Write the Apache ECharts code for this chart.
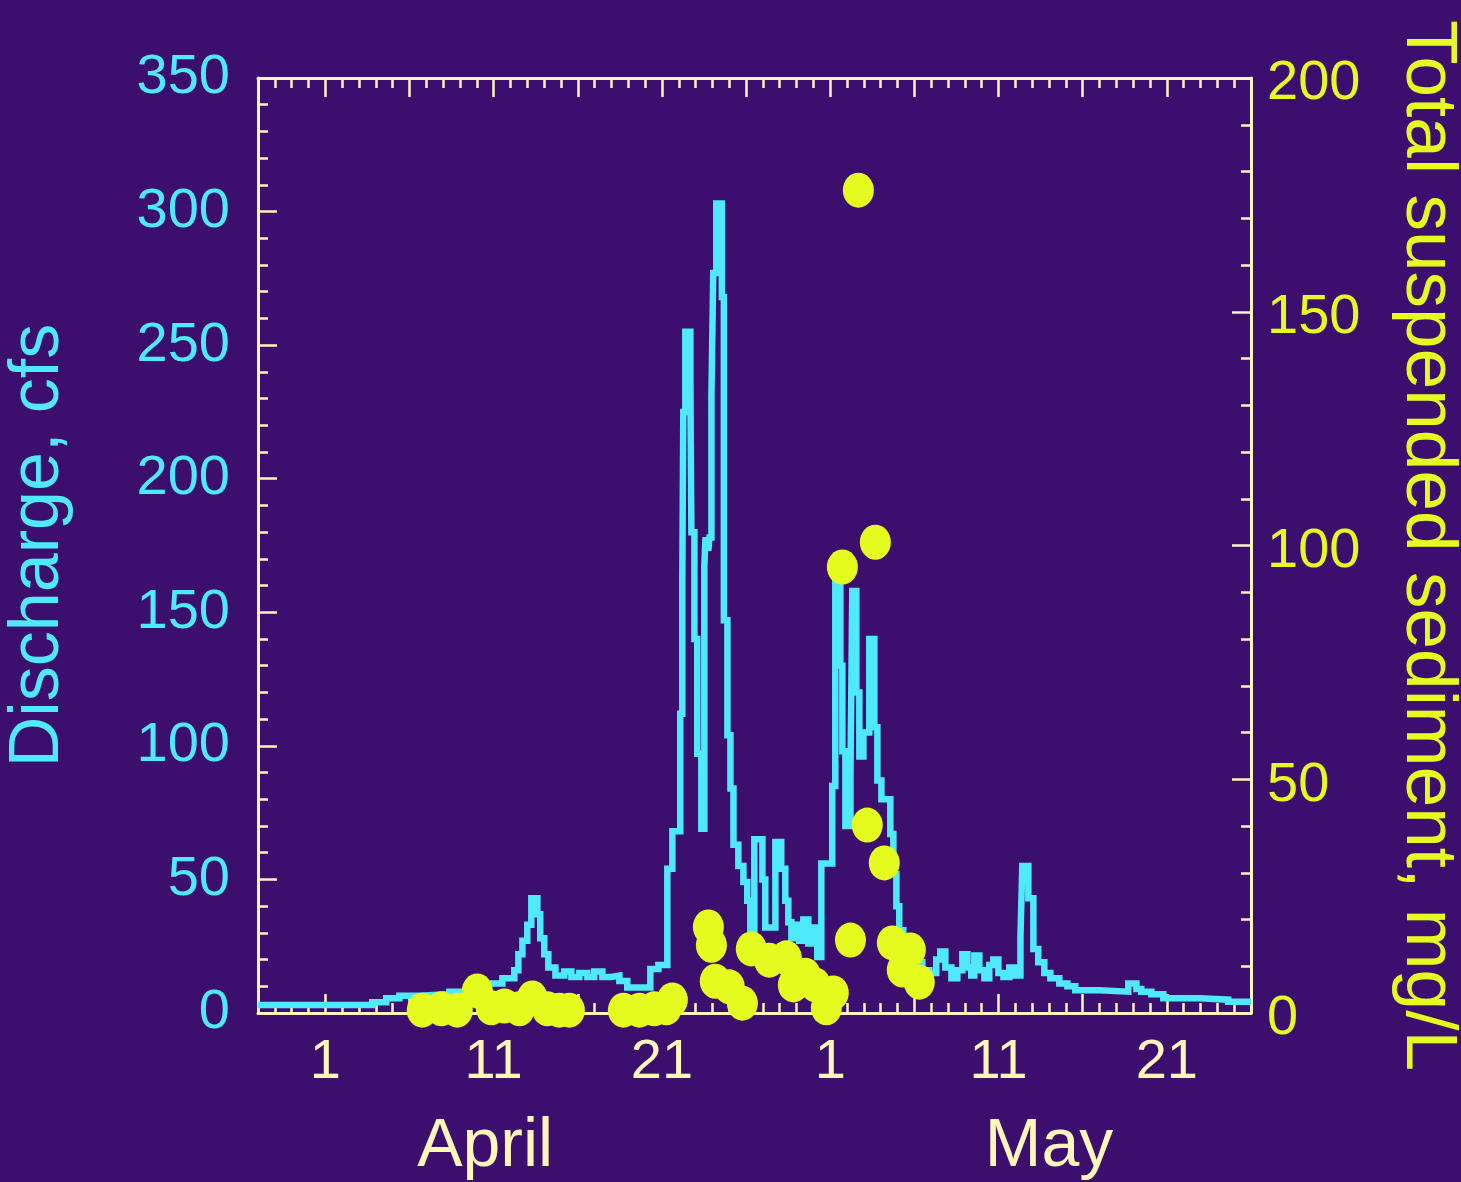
<!DOCTYPE html>
<html>
<head>
<meta charset="utf-8">
<title>Discharge and total suspended sediment</title>
<script src="https://cdn.jsdelivr.net/npm/echarts@6/dist/echarts.min.js"></script>
<style>
  html, body { margin: 0; padding: 0; background: #3c0f6e; }
  #chart { width: 1461px; height: 1182px; }
</style>
</head>
<body>
<div id="chart"></div>
<script>
// Day numbers count from April 1 (= 0); May 1 is day 30.
// Discharge record, drawn as steps: each level holds until the next day value.
const flowDays = [
  -4, 2.79, 3.62, 4.40, 5.59, 7.37, 8.85, 9.57, 10.52, 11.23,
  11.47, 11.71, 12.0, 12.24, 12.6, 12.77, 13.01, 13.25, 13.67, 14.2,
  14.62, 15.09, 15.57, 15.98, 16.46, 16.99, 17.47, 17.94, 19.31, 19.79,
  20.32, 20.62, 21.09, 21.21, 21.27, 21.39, 21.69, 21.75, 21.93, 22.1,
  22.34, 22.52, 22.58, 22.76, 22.82, 22.94, 23.05, 23.23, 23.56, 23.68,
  23.89, 24.07, 24.25, 24.54, 24.84, 25.07, 25.25, 25.49, 25.97, 26.14,
  26.74, 27.09, 27.33, 27.51, 27.69, 27.99, 28.16, 28.4, 28.7, 29.06,
  29.23, 29.47, 30.12, 30.3, 30.6, 30.72, 30.9, 31.2, 31.31, 31.55,
  31.73, 31.97, 32.32, 32.62, 32.8, 33.04, 33.57, 33.75, 33.93, 34.1,
  34.34, 35.0, 35.47, 35.89, 36.3, 36.54, 36.84, 37.2, 37.55, 37.85,
  38.15, 38.38, 38.56, 38.86, 39.16, 39.45, 39.69, 39.99, 40.29, 40.64,
  40.94, 41.3, 41.41, 41.77, 42.07, 42.36, 42.72, 43.08, 43.61, 44.09,
  44.56, 45.99, 47.71, 48.19, 48.48, 49.08, 49.79, 51.93, 53.65, 55
];
const flowCfs = [
  3, 4, 5.5, 6.5, 7, 8, 9.5, 11, 13, 16,
  22, 27, 33, 43, 37, 28, 22, 17, 14, 15.5,
  13.5, 15, 13.5, 15.5, 13.5, 14, 12, 9.5, 16.5, 18,
  54, 68, 112, 162, 225, 255, 237, 180, 140, 97,
  69, 167, 177, 173, 178, 231, 277, 303, 268, 147,
  104, 84, 63, 55, 49, 42, 31, 65, 50, 32,
  64, 54, 42, 34, 28, 33, 27, 35, 26, 32,
  21, 56, 85, 161, 130, 98, 70, 88, 158, 120,
  96, 105, 140, 107, 87, 80, 67, 52, 40, 31,
  22, 19, 16, 15, 20, 23, 17, 13, 16, 22,
  17, 14, 21.5, 16, 13, 18, 20, 15, 13.5, 17,
  14, 28, 55, 43, 24, 19, 15, 13, 11, 10,
  8.5, 8, 11, 9, 8, 7, 5.5, 5, 4.2, 4.2
];

// Suspended-sediment samples (mg/L)
const sampleDays = [
  5.76, 6.89, 7.84, 9.03, 9.86, 10.64, 11.53, 12.3, 13.19, 13.9, 14.5,
  17.71, 18.66, 19.55, 20.26, 20.62,
  22.76, 22.94, 23.17, 24.0, 24.78, 25.31, 26.38, 27.39, 27.81, 28.52, 29.11, 29.77, 30.18,
  30.72, 31.2, 31.67, 32.2, 32.68, 33.21, 33.69, 34.28, 34.76, 35.29
];
const sampleTss = [
  0.6, 0.9, 0.6, 4.7, 1.1, 1.5, 0.9, 3.2, 0.9, 0.6, 0.6,
  0.6, 0.6, 0.9, 1.1, 2.8,
  18.4, 14.5, 6.8, 5.6, 2.1, 13.7, 11.3, 11.8, 6.0, 8.1, 6.0, 1.1, 4.3,
  95.4, 15.6, 176, 40.2, 100.7, 32.1, 15.0, 9.2, 13.5, 6.6
];

// Axis ticks and labels (day numbers)
const dayLabelValues = [0, 10, 20, 30, 40, 50];
const majorTickDays = [0, 5, 10, 15, 20, 25, 30, 35, 40, 45, 50];
const monthNames = ['April', 'May'];
const monthLabelDays = [9.5, 43];

const CYAN = '#4ee9fb';
const YELLOW = '#e5fa1e';
const CREAM = '#fff6ba';
const FONT = '"Liberation Sans", Arial, Helvetica, sans-serif';

const flowData = flowDays.map((d, i) => [d, flowCfs[i]]);
const tssData = sampleDays.map((d, i) => [d, sampleTss[i]]);

function dayAxis(extra) {
  return Object.assign({
    type: 'value', min: -4, max: 55,
    axisLine: { show: false },
    axisTick: { show: false },
    axisLabel: { show: false },
    splitLine: { show: false }
  }, extra);
}

const chart = echarts.init(document.getElementById('chart'), null, { renderer: 'canvas' });
chart.setOption({
  backgroundColor: '#3c0f6e',
  animation: false,
  grid: { left: 258, right: 210, top: 78, bottom: 169, containLabel: false, outerBoundsMode: 'none' },
  xAxis: [
    // bottom: daily ticks and day labels
    dayAxis({
      position: 'bottom', interval: 1,
      axisLine: { show: true, onZero: false, lineStyle: { color: CREAM, width: 3 } },
      axisTick: { show: true, inside: true, length: 10, lineStyle: { color: CREAM, width: 2.5 } },
      axisLabel: {
        show: true, customValues: dayLabelValues, margin: 22,
        color: CREAM, fontSize: 56, fontFamily: FONT,
        formatter: v => String(v < 30 ? v + 1 : v - 29)
      }
    }),
    // bottom: five-day ticks and month names
    dayAxis({
      position: 'bottom',
      axisLine: { show: false, onZero: false },
      axisTick: { show: true, inside: true, length: 19, customValues: majorTickDays,
                  lineStyle: { color: CREAM, width: 2.5 } },
      axisLabel: {
        show: true, customValues: monthLabelDays, margin: 100,
        color: CREAM, fontSize: 68, fontFamily: FONT,
        formatter: v => v < 30 ? monthNames[0] : monthNames[1]
      }
    }),
    // top frame: daily ticks
    dayAxis({
      position: 'top', interval: 1,
      axisLine: { show: true, onZero: false, lineStyle: { color: CREAM, width: 3 } },
      axisTick: { show: true, inside: true, length: 10, lineStyle: { color: CREAM, width: 2.5 } }
    }),
    // top frame: five-day ticks
    dayAxis({
      position: 'top',
      axisLine: { show: false, onZero: false },
      axisTick: { show: true, inside: true, length: 19, customValues: majorTickDays,
                  lineStyle: { color: CREAM, width: 2.5 } }
    })
  ],
  yAxis: [
    {
      type: 'value', position: 'left', min: 0, max: 350, interval: 50,
      name: 'Discharge, cfs', nameLocation: 'middle', nameGap: 184,
      nameTextStyle: { color: CYAN, fontSize: 70, fontFamily: FONT },
      axisLine: { show: true, onZero: false, lineStyle: { color: CREAM, width: 3 } },
      axisTick: { show: true, inside: true, length: 19, lineStyle: { color: CREAM, width: 2.5 } },
      minorTick: { show: true, splitNumber: 5, length: 10, lineStyle: { color: CREAM, width: 2.5 } },
      axisLabel: { color: CYAN, fontSize: 56, fontFamily: FONT, margin: 28 },
      splitLine: { show: false }
    },
    {
      type: 'value', position: 'right', min: 0, max: 200, interval: 50,
      name: 'Total suspended sediment, mg/L', nameLocation: 'middle', nameGap: 140, nameRotate: -90,
      nameTextStyle: { color: YELLOW, fontSize: 73, fontFamily: FONT },
      axisLine: { show: true, onZero: false, lineStyle: { color: CREAM, width: 3 } },
      axisTick: { show: true, inside: true, length: 19, lineStyle: { color: CREAM, width: 2.5 } },
      minorTick: { show: true, splitNumber: 5, length: 10, lineStyle: { color: CREAM, width: 2.5 } },
      axisLabel: {
        color: YELLOW, fontSize: 56, fontFamily: FONT, margin: 16,
        verticalAlign: 'top', lineHeight: 56, padding: [-22, 0, 0, 0]
      },
      splitLine: { show: false }
    }
  ],
  series: [
    {
      name: 'Discharge', type: 'line', xAxisIndex: 0, yAxisIndex: 0,
      data: flowData, step: 'end', showSymbol: false, symbol: 'none',
      lineStyle: { color: CYAN, width: 6.5, join: 'miter' },
      z: 2
    },
    {
      name: 'Total suspended sediment', type: 'scatter', xAxisIndex: 0, yAxisIndex: 1,
      data: tssData, symbol: 'circle', symbolSize: [31, 35],
      itemStyle: { color: YELLOW, opacity: 1 },
      z: 3
    }
  ]
});
</script>
</body>
</html>
